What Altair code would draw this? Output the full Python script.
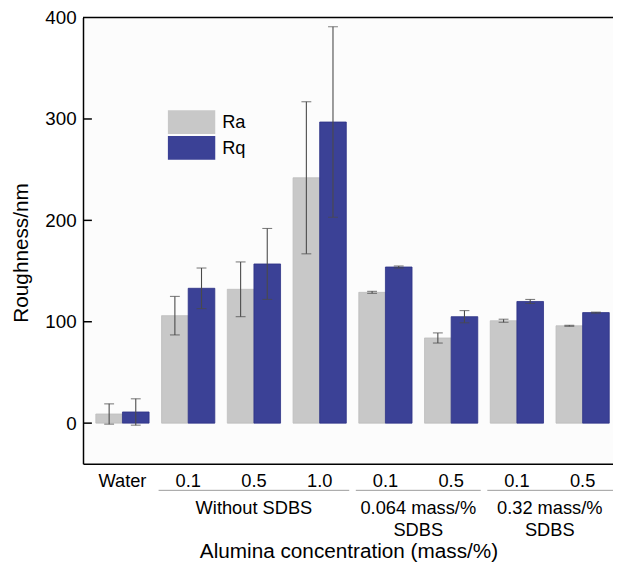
import altair as alt
import pandas as pd

# ---- data ----
groups = ["Water", "0.1|a", "0.5|a", "1.0|a", "0.1|b", "0.5|b", "0.1|c", "0.5|c"]
series = ["Ra", "Rq"]
ra_values = [9, 106, 132, 242, 129, 84, 101, 96]
ra_errors = [10, 19, 27, 75, 1, 5, 1.5, 0.5]
rq_values = [11, 133, 157, 297, 154, 105, 120, 109]
rq_errors = [13, 20, 35, 94, 1, 6, 2, 0.5]
sections = ["Without SDBS", "0.064 mass/%\nSDBS", "0.32 mass/%\nSDBS"]
section_first = [1, 4, 6]
section_last = [3, 5, 7]
y_ticks = [0, 100, 200, 300, 400]

rows = []
for g, v, e in zip(groups, ra_values, ra_errors):
    rows.append({"group": g, "series": "Ra", "value": v, "lo": v - e, "hi": v + e})
for g, v, e in zip(groups, rq_values, rq_errors):
    rows.append({"group": g, "series": "Rq", "value": v, "lo": v - e, "hi": v + e})
df = pd.DataFrame(rows)

W, H = 537, 452
P_IN, P_OUT, ALIGN = 0.19, 0.126, 0.774
FONT = "Liberation Sans"
GRAY, BLUE = "#c8c8c8", "#3b4196"
colors = [GRAY, BLUE]

# band geometry (same formula as Vega's band scale) for annotations
n = len(groups)
step = W / (n - P_IN + 2 * P_OUT)
start = (W - step * (n - P_IN)) * ALIGN
bw = step * (1 - P_IN)

xaxis = alt.Axis(title="Alumina concentration (mass/%)", ticks=False,
                 labelExpr="split(datum.label, '|')[0]", labelAngle=0,
                 labelFontSize=18.5, labelFont=FONT, labelColor="black",
                 labelPadding=8, domainColor="black", domainWidth=1.5,
                 titleFont=FONT, titleFontSize=21, titleFontWeight="normal",
                 titleColor="black", titleX=269, titleY=95,
                 titleBaseline="alphabetic")
yaxis = alt.Axis(title="Roughness/nm", values=y_ticks, ticks=False, grid=False,
                 labelFontSize=19, labelFont=FONT, labelColor="black",
                 labelPadding=7, domainColor="black", domainWidth=1.5,
                 titleFont=FONT, titleFontSize=21, titleFontWeight="normal",
                 titleColor="black", titleX=-56, titleY=238,
                 titleBaseline="alphabetic")
xscale = alt.Scale(paddingInner=P_IN, paddingOuter=P_OUT, align=ALIGN)
xenc = alt.X("group:N", sort=groups, scale=xscale, axis=xaxis)
xoff = alt.XOffset("series:N", sort=series, scale=alt.Scale(paddingInner=0, paddingOuter=0))
yscale = alt.Scale(domain=[-40, 400], nice=False, zero=False)

bars = alt.Chart(df).mark_bar(strokeWidth=0.8).encode(
    x=xenc, xOffset=xoff,
    y=alt.Y("value:Q", scale=yscale, axis=yaxis),
    y2=alt.value(H),
    color=alt.Color("series:N", scale=alt.Scale(domain=series, range=colors), legend=None),
    stroke=alt.Stroke("series:N", scale=alt.Scale(domain=series, range=["#bdbdbd", "#2d3285"]), legend=None),
)

err = alt.Chart(df).mark_rule(color="#4a4a4a", strokeWidth=1.1).encode(
    x=xenc, xOffset=xoff,
    y=alt.Y("lo:Q", scale=yscale, axis=yaxis), y2="hi:Q")
cap_lo = alt.Chart(df).mark_tick(color="#4a4a4a", orient="horizontal", size=10, thickness=1.1).encode(
    x=xenc, xOffset=xoff,
    y=alt.Y("lo:Q", scale=yscale, axis=yaxis))
cap_hi = alt.Chart(df).mark_tick(color="#4a4a4a", orient="horizontal", size=10, thickness=1.1).encode(
    x=xenc, xOffset=xoff,
    y=alt.Y("hi:Q", scale=yscale, axis=yaxis))

tick_df = pd.DataFrame({"t": y_ticks[:-1]})
inner_ticks = alt.Chart(tick_df).mark_rule(color="black", strokeWidth=1.5).encode(
    y=alt.Y("t:Q", scale=yscale, axis=yaxis), x=alt.value(0), x2=alt.value(9))

top_line = alt.Chart(pd.DataFrame({"a": [0]})).mark_rule(color="black", strokeWidth=1.5).encode(
    y=alt.value(0), x=alt.value(0), x2=alt.value(W))

layers = [bars, err, cap_lo, cap_hi, inner_ticks, top_line]

# section lines and labels below the axis
for lab, f, l in zip(sections, section_first, section_last):
    x0 = start + f * step - 3
    x1 = start + l * step + bw + 3 if l < n - 1 else W
    sdf = pd.DataFrame({"label": [lab]})
    layers.append(alt.Chart(sdf).mark_rule(color="#9a9a9a", strokeWidth=1).encode(
        x=alt.value(x0), x2=alt.value(x1), y=alt.value(479)))
    layers.append(alt.Chart(sdf).mark_text(font=FONT, fontSize=18.5, color="black", align="center",
                                           baseline="alphabetic", lineBreak="\n", lineHeight=22).encode(
        x=alt.value((start + f * step + start + l * step + bw) / 2), y=alt.value(503),
        text="label:N"))

# legend (inside the plot, top-left)
for i, (s, c) in enumerate(zip(series, colors)):
    ldf = pd.DataFrame({"label": [s]})
    top = 94 + i * 26
    layers.append(alt.Chart(ldf).mark_rect(color=c).encode(
        x=alt.value(86), x2=alt.value(134), y=alt.value(top), y2=alt.value(top + 24)))
    layers.append(alt.Chart(ldf).mark_text(font=FONT, fontSize=18.5, color="black", align="left",
                                           baseline="middle").encode(
        x=alt.value(141), y=alt.value(top + 12), text="label:N"))

chart = alt.layer(*layers).properties(
    width=W, height=H,
    autosize=alt.AutoSizeParams(type="none"),
    padding={"left": 76, "top": 6, "right": 0, "bottom": 104},
).configure_view(stroke=None, fill="#fcfcfc")

chart.save("out.html", embed_options={"renderer": "svg", "actions": False})
